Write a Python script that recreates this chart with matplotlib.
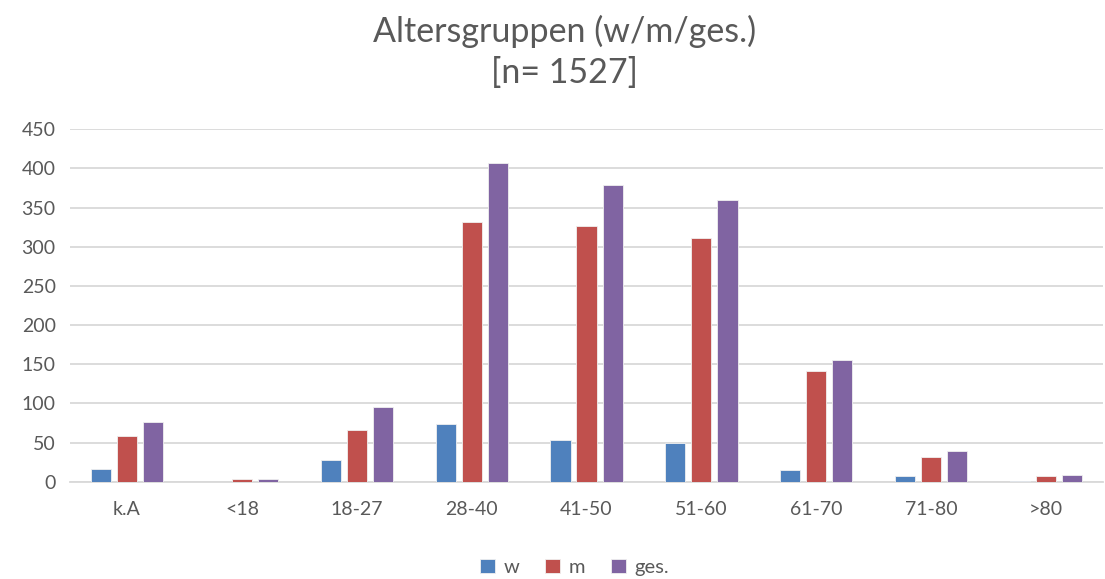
import numpy as np
import matplotlib
matplotlib.use("Agg")
import matplotlib.pyplot as plt

# data
categories = ["k.A", "<18", "18-27", "28-40", "41-50", "51-60", "61-70", "71-80", ">80"]
w = [16, 0, 28, 74, 53, 49, 15, 7, 1]
m = [59, 3, 66, 332, 326, 311, 141, 31, 7]
ges = [76, 3, 95, 407, 379, 360, 156, 39, 8]
series_names = ["w", "m", "ges."]
colors = ["#4F81BD", "#C0504D", "#8064A2"]

plt.rcParams["font.family"] = ["Lato", "DejaVu Sans"]
text_col = "#595959"

fig = plt.figure(figsize=(11.05, 5.79), dpi=100)
ax = fig.add_axes([0.063, 0.168, 0.9356, 0.6087])

x = np.arange(len(categories))
bw = 0.175
off = 0.227
for i, (vals, name, c) in enumerate(zip([w, m, ges], series_names, colors)):
    ax.bar(x + (i - 1) * off, vals, width=bw, color=c, label=name,
           edgecolor="#f0f0f0", linewidth=0.6, zorder=3)

ax.set_xlim(-0.5, len(categories) - 0.5)
ax.set_ylim(0, 450)
ax.set_yticks(np.arange(0, 451, 50))
ax.set_xticks(x)
ax.set_xticklabels(categories)
ax.grid(axis="y", color="#D9D9D9", linewidth=1.3, zorder=0)
for s in ["top", "right", "left"]:
    ax.spines[s].set_visible(False)
ax.spines["bottom"].set_color("#D9D9D9")
ax.spines["bottom"].set_linewidth(1.3)
ax.tick_params(axis="both", length=0, labelsize=14, colors=text_col)
ax.tick_params(axis="x", pad=14)
ax.tick_params(axis="y", pad=10)

fig.text(0.511, 0.945, "Altersgruppen (w/m/ges.)", ha="center", va="center",
         fontsize=24.5, color=text_col)
fig.text(0.511, 0.874, "[n= 1527]", ha="center", va="center",
         fontsize=24.5, color=text_col)

leg = fig.legend(loc="center", bbox_to_anchor=(0.52, 0.02), ncol=3, frameon=False,
                 fontsize=14.5, handlelength=0.75, handleheight=0.75,
                 handletextpad=0.4, columnspacing=1.3)
for t in leg.get_texts():
    t.set_color(text_col)

fig.savefig("out.png", dpi=100)
